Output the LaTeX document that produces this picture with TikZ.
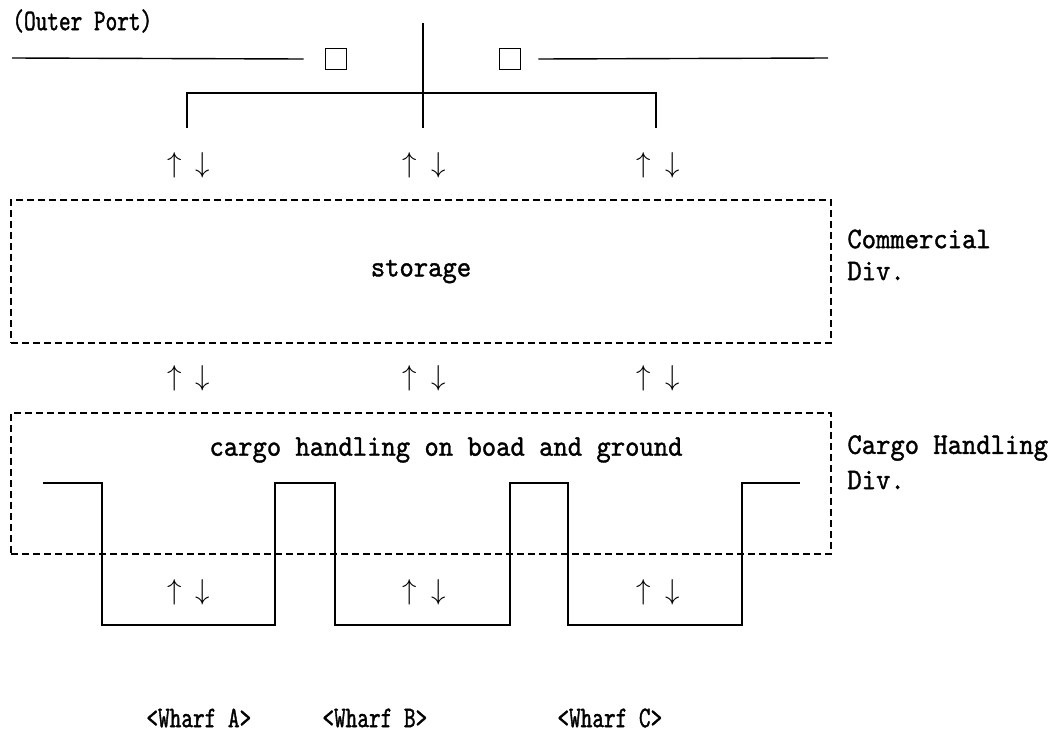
\documentclass[tikz,border=0pt]{standalone}
\usepackage{fontspec}
\newfontfamily\printfont[FakeStretch=0.91, FakeBold=1.2]{lmmono10-regular.otf}
\newfontfamily\printnarrow[FakeStretch=0.74, FakeBold=1.2]{lmmono10-regular.otf}
\usetikzlibrary{positioning}
\tikzset{
  txt/.style  ={font=\printfont\fontsize{15}{18}\selectfont, inner sep=0pt},
  ntxt/.style ={font=\printnarrow\fontsize{15}{18}\selectfont, inner sep=0pt},
  dbox/.style ={txt, draw, dash pattern=on 3.3pt off 2.2pt, line width=0.6pt,
                minimum width=410pt, inner sep=0pt},
  sq/.style   ={draw, line width=0.9pt, minimum size=10.5pt, inner sep=0pt},
  thinln/.style={line width=0.7pt},
  spine/.style={line width=1pt},
  quay/.style ={line width=1.2pt},
}
\newcommand{\updn}{$\uparrow$\hspace{7pt}$\downarrow$}

\begin{document}
\begin{tikzpicture}[x=0.5pt,y=-0.5pt]
  \useasboundingbox (0,0) rectangle (1059,750);
  \node[ntxt, anchor=west] (outer) at (12,21) {(Outer Port)};
  \node[sq] (sqL) at (336,59) {};
  \node[sq] (sqR) at (510,59) {};
  \coordinate (lnL) at (12,58);
  \coordinate (lnR) at (828,58);
  \draw[thinln] (lnL) -- ([xshift=-10.5pt]sqL.west);
  \draw[thinln] ([xshift=8.5pt]sqR.east) -- (lnR);
  \coordinate (top) at (423,23);
  \coordinate (mid) at (423,128);
  \coordinate (brk) at (423,93);
  \coordinate (bL) at (187,128);
  \coordinate (bR) at (656,128);
  \draw[spine] (top) -- (mid);
  \draw[thinln] (bL) |- (brk) -| (bR);

  \foreach \x/\n in {189/a,424/b,658/c} {
    \node[txt] (up\n) at (\x,165) {\updn};
    \node[txt] (mid\n) at (\x,378) {\updn};
    \node[txt] (low\n) at (\x,592) {\updn};
  }

  \node[dbox, minimum height=71.5pt] (storage) at (421,271.5) {storage};
  \node[dbox, minimum height=70.5pt] (cargo) at (421,483.5) {};
  \node[txt] (cargotxt) at (446,450) {cargo handling on boad and ground};

  \node[txt, anchor=west] (com) at (847,239) {Commercial};
  \node[txt, anchor=west] (comdiv) at (847,271) {Div.};
  \node[txt, anchor=west] (chd) at (847,448) {Cargo Handling};
  \node[txt, anchor=west] (chddiv) at (847,480) {Div.};

  \draw[quay] (43,483) -- (102,483) -- (102,625) -- (275,625) -- (275,483)
    -- (335,483) -- (335,625) -- (510,625) -- (510,483) -- (568,483)
    -- (568,625) -- (742,625) -- (742,483) -- (800,483);

  \node[ntxt, anchor=west] (wA) at (146,718) {<Wharf A>};
  \node[ntxt, anchor=west] (wB) at (322,718) {<Wharf B>};
  \node[ntxt, anchor=west] (wC) at (557,718) {<Wharf C>};
\end{tikzpicture}
\end{document}
